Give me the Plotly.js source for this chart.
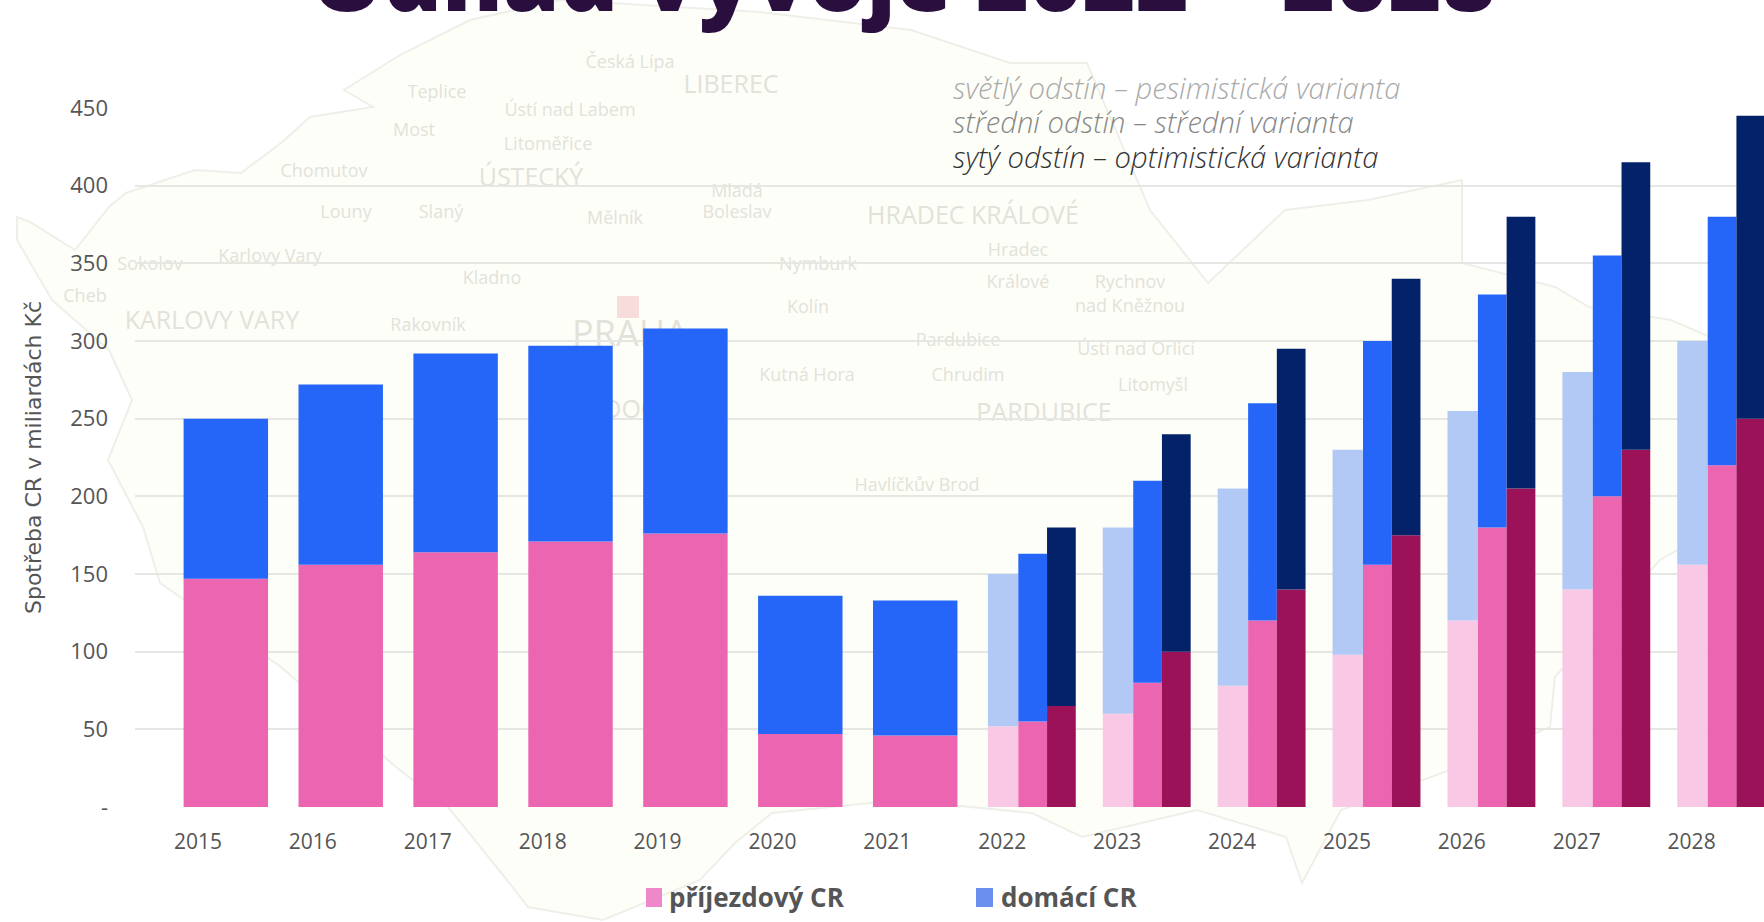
<!DOCTYPE html>
<html lang="cs">
<head>
<meta charset="utf-8">
<title>Odhad vývoje 2022 – 2028</title>
<script src="https://cdn.plot.ly/plotly-3.0.1.min.js"></script>
<style>html,body{margin:0;padding:0;background:#fff;overflow:hidden}#chart{width:1764px;height:922px}</style>
</head>
<body>
<div id="chart"></div>
<script>
const allYears = ['2015','2016','2017','2018','2019','2020','2021','2022','2023','2024','2025','2026','2027','2028'];
const histYears = ['2015','2016','2017','2018','2019','2020','2021'];
const forecastYears = ['2022','2023','2024','2025','2026','2027','2028'];

const histArrivals = [147,156,164,171,176,47,46];
const histDomestic = [103,116,128,126,132,89,87];

const lowArrivals = [52,60,78,98,120,140,156];
const lowDomestic = [98,120,127,132,135,140,144];
const midArrivals = [55,80,120,156,180,200,220];
const midDomestic = [108,130,140,144,150,155,160];
const highArrivals = [65,100,140,175,205,230,250];
const highDomestic = [115,140,155,165,175,185,195];

const yTickVals = [0,50,100,150,200,250,300,350,400,450];
const yTickText = ['-','50','100','150','200','250','300','350','400','450'];

const W = 1764, H = 922, L = 135, T = 108, B = 807;
const px = x => (x - L) / (W - L);
const py = y => 1 - (y - T) / (B - T);

function bars(name, x, y, base, offset, width, color) {
  return {type:'bar', name, x, y, base, offset, width, showlegend:false,
    marker:{color, line:{width:0}}, hoverinfo:'x+y+name'};
}
const traces = [
  bars('příjezdový CR', histYears, histArrivals, 0, -0.125, 0.735, '#ec65b0'),
  bars('domácí CR', histYears, histDomestic, histArrivals, -0.125, 0.735, '#2566f8'),
  bars('příjezdový CR – pesimistická', forecastYears, lowArrivals, 0, -0.125, 0.265, '#f9c8e4'),
  bars('domácí CR – pesimistická', forecastYears, lowDomestic, lowArrivals, -0.125, 0.265, '#b3c9f5'),
  bars('příjezdový CR – střední', forecastYears, midArrivals, 0, 0.14, 0.25, '#ec65b0'),
  bars('domácí CR – střední', forecastYears, midDomestic, midArrivals, 0.14, 0.25, '#2566f8'),
  bars('příjezdový CR – optimistická', forecastYears, highArrivals, 0, 0.39, 0.25, '#9c1259'),
  bars('domácí CR – optimistická', forecastYears, highDomestic, highArrivals, 0.39, 0.25, '#03226a')
];

// faint watermark map of Czechia behind the chart
const mapOutline = [[344,90],[373,107],[310,117],[281,143],[241,173],[195,170],[126,193],[109,207],[75,250],[30,222],[17,217],[17,240],[52,300],[109,350],[132,400],[108,460],[143,527],[160,583],[281,667],[396,767],[448,807],[499,870],[528,907],[603,920],[700,880],[735,843],[772,813],[900,800],[1032,813],[1082,837],[1197,810],[1286,837],[1302,883],[1341,810],[1450,770],[1550,727],[1555,677],[1660,560],[1764,500],[1764,360],[1671,320],[1589,307],[1555,287],[1462,263],[1462,180],[1368,200],[1285,210],[1208,283],[1150,210],[1087,63],[1010,63],[911,30],[760,12],[560,0],[470,20],[400,55]];
const mapPath = 'M' + mapOutline.map(p => px(p[0]) + ',' + py(p[1])).join('L') + 'Z';
const mapLabels = [
  ['LIBEREC',731,85,25],['ÚSTECKÝ',531,178,25],['KARLOVY VARY',212,321,25],['HRADEC KRÁLOVÉ',973,216,25],
  ['PARDUBICE',1044,413,25],['PRAHA',630,334,36],['STŘEDOČESKÝ',630,410,25],
  ['Česká Lípa',630,62,18],['Teplice',437,92,18],['Ústí nad Labem',570,110,18],['Most',414,130,18],
  ['Litoměřice',548,144,18],['Chomutov',324,171,18],['Louny',346,212,18],['Slaný',441,212,18],
  ['Mělník',615,218,18],['Mladá',737,191,18],['Boleslav',737,212,18],['Karlovy Vary',270,256,18],
  ['Kladno',492,278,18],['Rakovník',428,325,18],['Nymburk',818,264,18],['Kolín',808,307,18],
  ['Kutná Hora',807,375,18],['Pardubice',958,340,18],['Chrudim',968,375,18],['Hradec',1018,250,18],
  ['Králové',1018,282,18],['Rychnov',1130,282,18],['nad Kněžnou',1130,306,18],['Ústí nad Orlicí',1136,349,18],
  ['Litomyšl',1153,385,18],['Havlíčkův Brod',917,485,18],['Sokolov',150,264,18],['Cheb',85,296,18]
];
const shapes = [{type:'path', xref:'paper', yref:'paper', path:mapPath, layer:'below',
  fillcolor:'#fefef8', line:{color:'#efefea', width:2}}];
mapLabels.forEach(l => shapes.push({type:'rect', xref:'paper', yref:'paper', layer:'below',
  x0:px(l[1]-2), x1:px(l[1]+2), y0:py(l[2]+2), y1:py(l[2]-2), line:{width:0}, fillcolor:'rgba(0,0,0,0)',
  label:{text:l[0], textposition:'middle center', font:{family:'Open Sans', size:l[3], color:'#e2e2da'}}}));
// Prague marker on the watermark map
shapes.push({type:'rect', xref:'paper', yref:'paper', layer:'below', x0:px(617), x1:px(639), y0:py(318), y1:py(296), fillcolor:'#f8dcdc', line:{width:0}});
// legend swatches
shapes.push({type:'rect', xref:'paper', yref:'paper', x0:px(646), x1:px(662), y0:py(907), y1:py(888), fillcolor:'#ee88c8', line:{width:0}});
shapes.push({type:'rect', xref:'paper', yref:'paper', x0:px(976), x1:px(993), y0:py(907), y1:py(888), fillcolor:'#6b8fef', line:{width:0}});

const note = (text, y, color) => ({xref:'paper', yref:'paper', x:px(951), y:py(y), xanchor:'left', yanchor:'middle', showarrow:false, text,
  font:{family:'Open Sans', size:29.2, color, style:'italic', weight:300}});
const annotations = [
  {xref:'paper', yref:'paper', x:px(903), y:py(-24), xanchor:'center', yanchor:'middle', showarrow:false,
   text:'Odhad vývoje 2022 – 2028', font:{family:'Open Sans', size:91, color:'#2a0f3e', weight:800}},
  note('světlý odstín – pesimistická varianta', 88, '#aaaaaa'),
  note('střední odstín – střední varianta', 122, '#888888'),
  note('sytý odstín – optimistická varianta', 157, '#333333'),
  {xref:'paper', yref:'paper', x:px(667), y:py(897), xanchor:'left', yanchor:'middle', showarrow:false, text:'příjezdový CR',
   font:{family:'Open Sans', size:26, color:'#555555', weight:700}},
  {xref:'paper', yref:'paper', x:px(999), y:py(897), xanchor:'left', yanchor:'middle', showarrow:false, text:'domácí CR',
   font:{family:'Open Sans', size:26, color:'#555555', weight:700}}
];

const layout = {
  width:W, height:H, margin:{l:L, r:0, t:T, b:H-B, pad:0},
  paper_bgcolor:'#ffffff', plot_bgcolor:'rgba(0,0,0,0)',
  barmode:'overlay', showlegend:false,
  font:{family:'Open Sans', color:'#555555'},
  xaxis:{type:'category', categoryorder:'array', categoryarray:allYears, range:[-0.548,13.63], fixedrange:true,
    showgrid:false, zeroline:false, showline:false, ticks:'', tickfont:{size:21, color:'#555555'}, ticklabelstandoff:20, tickangle:0},
  yaxis:{range:[0,450], fixedrange:true, tickmode:'array', tickvals:yTickVals, ticktext:yTickText, showgrid:true, gridcolor:'#e6e6e2', gridwidth:1.5,
    zeroline:false, showline:false, ticks:'', tickfont:{size:22, color:'#555555'}, ticklabelstandoff:26,
    title:{text:'Spotřeba CR v miliardách Kč', standoff:22, font:{family:'DejaVu Sans', size:22, color:'#555555'}}},
  shapes, annotations
};
Plotly.newPlot('chart', traces, layout, {displayModeBar:false, responsive:false});
</script>
</body>
</html>
